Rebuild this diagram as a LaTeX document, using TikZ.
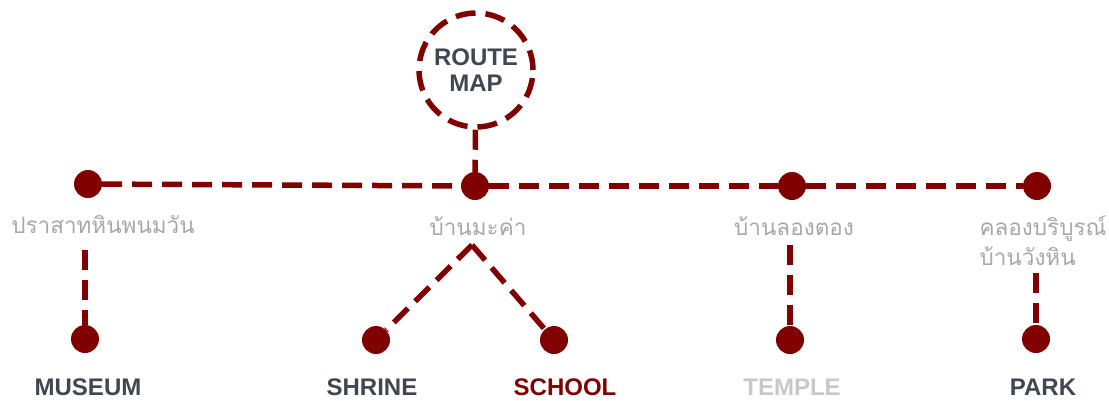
\documentclass[tikz,border=0pt]{standalone}
\usepackage{fontspec}
\usepackage{xcolor}
\setmainfont{Liberation Sans}
\newfontfamily\thaifont[Script=Thai]{Loma}

\definecolor{routered}{RGB}{128,0,0}
\definecolor{slate}{RGB}{64,71,80}
\definecolor{thaigray}{RGB}{168,168,168}
\definecolor{palegray}{RGB}{200,200,200}

\begin{document}
\begin{tikzpicture}[
    x = 1pt, y = -1pt,
    stop/.style = {circle, fill=routered, minimum size=28pt, inner sep=0pt},
    route/.style = {draw=routered, line width=5.5pt, dash pattern=on 20pt off 10pt},
    place/.style = {font=\thaifont\fontsize{22.5}{30}\selectfont, text=thaigray, align=left},
    sight/.style = {font=\bfseries\fontsize{24}{26}\selectfont, text=slate}]
    \useasboundingbox (0,0) rectangle (1109,400);
    % NODES
    % title circle
    \node[route, circle, minimum size=114pt, inner sep=0pt, align=center,
          font=\bfseries\fontsize{24}{26}\selectfont, text=slate] (Title) at (476,70) {ROUTE\\MAP};
    % stops on the main line
    \node[stop] (P1) at (88,184) {};
    \node[stop] (P2) at (475,186) {};
    \node[stop] (P3) at (792,186) {};
    \node[stop] (P4) at (1037,186) {};
    % stop names
    \node[place, below of = P1, node distance = 41pt, xshift = 15pt] (L1) {ปราสาทหินพนมวัน};
    \node[place, below of = P2, node distance = 40pt, xshift = 3pt] (L2) {บ้านมะค่า};
    \node[place, below of = P3, node distance = 40pt, xshift = 2pt] (L3) {บ้านลองตอง};
    \node[place, below of = P4, node distance = 55pt, xshift = 6pt] (L4) {คลองบริบูรณ์\\บ้านวังหิน};
    % sights
    \node[stop] (S1) at (85,339) {};
    \node[stop] (S2) at (376,340) {};
    \node[stop] (S3) at (554,340) {};
    \node[stop] (S4) at (790,340) {};
    \node[stop] (S5) at (1036,339) {};
    \node[sight, below of = S1, node distance = 48pt, xshift = 3pt] (M1) {MUSEUM};
    \node[sight, below of = S2, node distance = 47pt, xshift = -4pt] (M2) {SHRINE};
    \node[sight, below of = S3, node distance = 47pt, xshift = 11pt, text=routered] (M3) {SCHOOL};
    \node[sight, below of = S4, node distance = 47pt, xshift = 2pt, text=palegray] (M4) {TEMPLE};
    \node[sight, below of = S5, node distance = 48pt, xshift = 7pt] (M5) {PARK};
    % line starts
    \coordinate (T1) at (85,250);
    \coordinate (T2) at (472,245);
    \coordinate (T4) at (790,245);
    \coordinate (T5) at (1036,273);

    % LINES
    \draw[route] (Title) -- (P2);
    \draw[route] (P1) -- (P2);
    \draw[route] (P2) -- (P3);
    \draw[route] (P3) -- (P4);
    \draw[route] (T1) -- (S1);
    \draw[route] (T2) -- (S2);
    \draw[route] (T2) -- (S3);
    \draw[route] (T4) -- (S4);
    \draw[route] (T5) -- (S5);
\end{tikzpicture}
\end{document}
